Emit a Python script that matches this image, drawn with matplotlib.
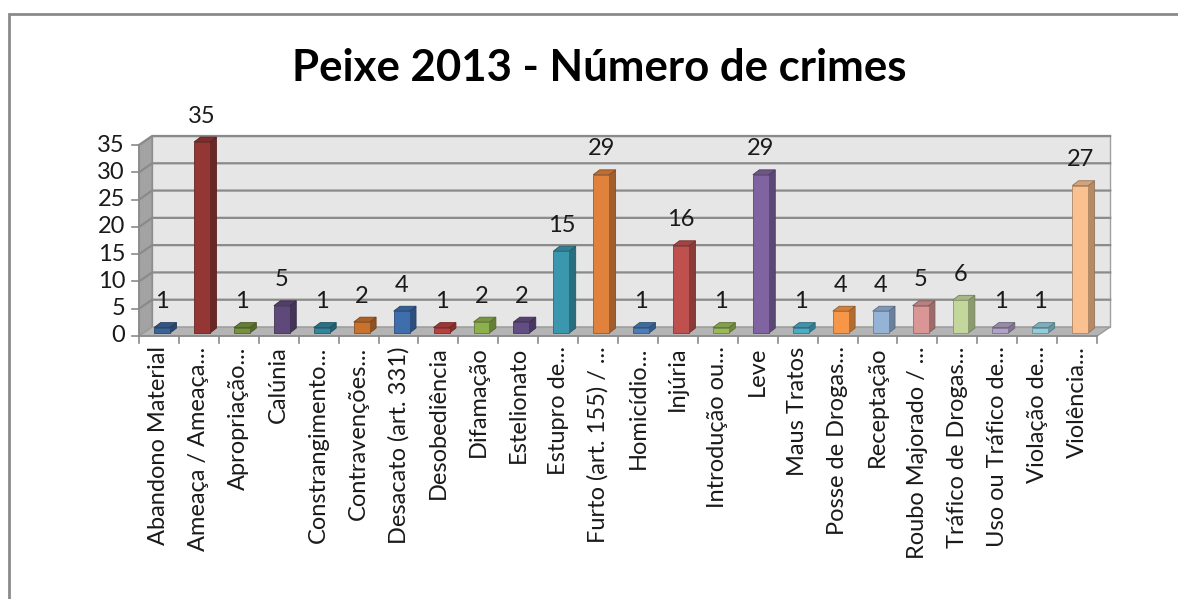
import numpy as np
import matplotlib.pyplot as plt
from matplotlib.patches import Polygon, Rectangle
from matplotlib.colors import to_rgb

plt.rcParams['font.family'] = ['Lato', 'DejaVu Sans']

categorias = ['Abandono Material', 'Ameaça / Ameaça...', 'Apropriação...', 'Calúnia',
              'Constrangimento...', 'Contravenções...', 'Desacato (art. 331)', 'Desobediência',
              'Difamação', 'Estelionato', 'Estupro de...', 'Furto (art. 155) / ...',
              'Homicídio...', 'Injúria', 'Introdução ou...', 'Leve', 'Maus Tratos',
              'Posse de Drogas...', 'Receptação', 'Roubo Majorado / ...', 'Tráfico de Drogas...',
              'Uso ou Tráfico de...', 'Violação de...', 'Violência...']
crimes = [1, 35, 1, 5, 1, 2, 4, 1, 2, 2, 15, 29, 1, 16, 1, 29, 1, 4, 4, 5, 6, 1, 1, 27]
cores = ['#3A6499', '#943634', '#76923C', '#5F497A', '#31859C', '#C8722E',
         '#3F6EAD', '#B8413E', '#8CB04C', '#644D84', '#3A97AE', '#E0813C',
         '#4A7EBB', '#C0504D', '#9BBB59', '#8064A2', '#4BACC6', '#F79646',
         '#95B3D7', '#D99694', '#C3D69B', '#B2A2C7', '#92CDDC', '#FAC08F']
yticks = [0, 5, 10, 15, 20, 25, 30, 35]


def shade(c, f):
    r, g, b = to_rgb(c)
    return (r * f, g * f, b * f)


fig = plt.figure(figsize=(11.78, 5.99), dpi=100)
fig.patches.append(Rectangle((9 / 1178, -0.01), 1.02, 0.987, transform=fig.transFigure,
                             fill=False, edgecolor='#8a8a8a', linewidth=2))

ax = fig.add_axes([139 / 1178, 263 / 599, 958 / 1178, 191 / 599])
n = len(crimes)
ymax = 35
ax.set_xlim(0, n)
ax.set_ylim(0, ymax)
ax.axis('off')

# depth of the "3d" box in data units
ddx, ddy = 0.33, 1.65
# depth of bars
bdx, bdy = 0.16, 0.9

# walls and floor
ax.add_patch(Rectangle((ddx, ddy), n, ymax, facecolor='#e6e6e6', edgecolor='#a0a0a0',
                       linewidth=1, zorder=1, clip_on=False))
ax.add_patch(Polygon([(0, 0), (ddx, ddy), (ddx, ymax + ddy), (0, ymax)], closed=True,
                     facecolor='#a3a3a3', edgecolor='#8c8c8c', linewidth=1, zorder=1, clip_on=False))
ax.add_patch(Polygon([(0, 0), (n, 0), (n + ddx, ddy), (ddx, ddy)], closed=True,
                     facecolor='#b4b4b4', edgecolor='#9a9a9a', linewidth=1, zorder=2, clip_on=False))
for v in yticks[1:]:
    ax.plot([0, ddx, n + ddx], [v, v + ddy, v + ddy], color='#8a8a8a', linewidth=1.6,
            zorder=1.5, clip_on=False)

# axis lines and ticks
ax.plot([0, 0], [0, ymax], color='#8a8a8a', linewidth=1.2, zorder=3, clip_on=False)
ax.plot([0, n], [0, 0], color='#8a8a8a', linewidth=1.2, zorder=3, clip_on=False)
for v in yticks:
    ax.plot([-0.17, 0], [v, v], color='#8a8a8a', linewidth=1.2, clip_on=False)
    ax.text(-0.35, v, str(v), ha='right', va='center', fontsize=17, color='#1a1a1a')
for i in range(n + 1):
    ax.plot([i, i], [0, -1.2], color='#8a8a8a', linewidth=1.2, clip_on=False)

# bars with side and top faces
x = np.arange(n)
bw = 0.4
bx0 = x + 0.38
by0 = 0.55
for xi, v, c in zip(bx0, crimes, cores):
    top = by0 + v
    ax.add_patch(Polygon([(xi + bw, by0), (xi + bw + bdx, by0 + bdy), (xi + bw + bdx, top + bdy),
                          (xi + bw, top)], closed=True, facecolor=shade(c, 0.72),
                         edgecolor=shade(c, 0.6), linewidth=0.6, zorder=4, clip_on=False))
    ax.add_patch(Polygon([(xi, top), (xi + bdx, top + bdy), (xi + bw + bdx, top + bdy),
                          (xi + bw, top)], closed=True, facecolor=shade(c, 0.85),
                         edgecolor=shade(c, 0.6), linewidth=0.6, zorder=4, clip_on=False))
ax.bar(bx0, crimes, width=bw, bottom=by0, align='edge', color=cores,
       edgecolor=[shade(c, 0.7) for c in cores], linewidth=0.6, zorder=5, clip_on=False)
for xi, v in zip(bx0, crimes):
    ax.annotate(str(v), (xi + bw / 2, by0 + v), xytext=(0, 11), textcoords='offset points',
                ha='center', va='bottom', fontsize=17, color='#1a1a1a', annotation_clip=False)

# category labels
for i, lab in enumerate(categorias):
    ax.text(i + 0.5, -1.9, lab, rotation=90, ha='center', va='top', fontsize=17,
            color='#1a1a1a')

fig.text(0.509, 0.886, 'Peixe 2013 - Número de crimes', ha='center', va='center',
         fontsize=31.5, fontweight='bold', color='black')

fig.savefig('out.png', dpi=100, facecolor='white')
